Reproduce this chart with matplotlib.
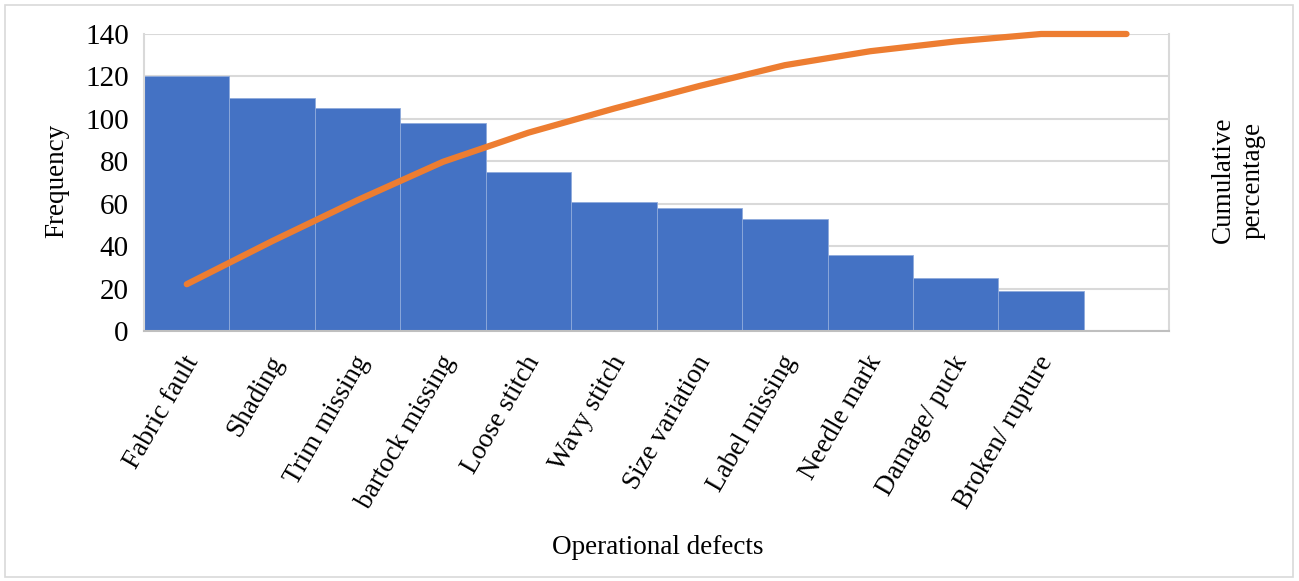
import matplotlib
matplotlib.use("Agg")
import matplotlib.pyplot as plt
from matplotlib.patches import Rectangle
from matplotlib.transforms import ScaledTranslation

plt.rcParams['font.family'] = ['Liberation Serif', 'DejaVu Serif']

# data
defects = ['Fabric fault', 'Shading', 'Trim missing', 'bartock missing', 'Loose stitch',
           'Wavy stitch', 'Size variation', 'Label missing', 'Needle mark',
           'Damage/ puck', 'Broken/ rupture', '']
frequency = [120, 110, 105, 98, 75, 61, 58, 53, 36, 25, 19]
cumulative_pct = [15.8, 30.3, 44.1, 57.0, 66.8, 74.9, 82.5, 89.5, 94.2, 97.5, 100, 100]

BAR = '#4472C4'
LINE = '#ED7D31'
GRID = '#d9d9d9'

fig = plt.figure(figsize=(12.99, 5.81), dpi=100)
ax = fig.add_axes([0.1109, 0.430, 0.7892, 0.5115])

x = range(len(defects))
ax.bar(list(x)[:len(frequency)], frequency, width=1.0, color=BAR,
       edgecolor='#8faadc', linewidth=0.6, zorder=2)
ax.set_xlim(-0.5, len(defects) - 0.5)
ax.set_ylim(0, 140)
ax.set_yticks(range(0, 141, 20))
ax.grid(axis='y', color=GRID, linewidth=1.5, zorder=0)
ax.set_axisbelow(True)
ax.tick_params(axis='y', length=0, pad=11, labelsize=21)
ax.tick_params(axis='x', length=0, pad=4)
ax.set_xticks(list(x))
ax.set_xticklabels(defects, rotation=60, ha='right', va='center',
                   rotation_mode='anchor', fontsize=19.5)
shift = ScaledTranslation(6 / 100, 0, fig.dpi_scale_trans)
for lab in ax.get_xticklabels():
    lab.set_y(-0.07)
    lab.set_transform(lab.get_transform() + shift)

ax.spines['top'].set_visible(False)
ax.spines['bottom'].set_color('#bfbfbf')
ax.spines['bottom'].set_linewidth(1.5)
for side in ['left', 'right']:
    ax.spines[side].set_color(GRID)
    ax.spines[side].set_linewidth(1.5)

ax2 = ax.twinx()
ax2.plot(list(x), cumulative_pct, color=LINE, linewidth=4.5,
         solid_capstyle='round', solid_joinstyle='round', clip_on=False, zorder=3)
ax2.set_ylim(0, 100)
ax2.set_yticks([])
for s in ax2.spines.values():
    s.set_visible(False)

fig.text(0.044, 0.688, 'Frequency', rotation=90, ha='center', va='center', fontsize=19.5)
fig.text(0.953, 0.69, 'Cumulative\npercentage', rotation=90, ha='center', va='center',
         fontsize=19.5, linespacing=1.25)
fig.text(0.506, 0.058, 'Operational defects', ha='center', va='center', fontsize=19.5)

fig.patches.append(Rectangle((5 / 1299, 4 / 581), 1288 / 1299, 572 / 581,
                             transform=fig.transFigure, fill=False,
                             edgecolor=GRID, linewidth=1.2))

fig.savefig('out.png', dpi=100)
